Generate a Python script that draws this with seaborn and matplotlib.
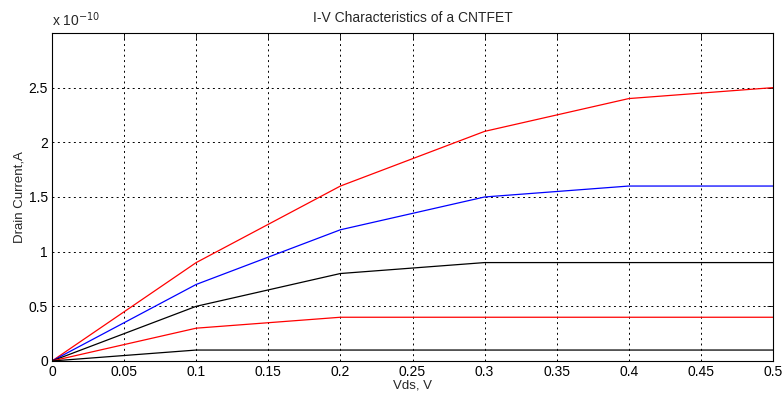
import pandas as pd
import matplotlib
matplotlib.use('Agg')
import matplotlib.pyplot as plt
import seaborn as sns
from matplotlib.ticker import FuncFormatter, FixedLocator

sns.set_style('white')
plt.rcParams['font.family'] = ['Liberation Sans', 'DejaVu Sans']

# Vds points (V) and drain current curves (in units of 1e-10 A)
vds = [0, 0.1, 0.2, 0.3, 0.4, 0.5]
id_1 = [0, 0.9, 1.6, 2.1, 2.4, 2.5]
id_2 = [0, 0.7, 1.2, 1.5, 1.6, 1.6]
id_3 = [0, 0.5, 0.8, 0.9, 0.9, 0.9]
id_4 = [0, 0.3, 0.4, 0.4, 0.4, 0.4]
id_5 = [0, 0.1, 0.1, 0.1, 0.1, 0.1]
scale = 1e-10

curves = {'c1': id_1, 'c2': id_2, 'c3': id_3, 'c4': id_4, 'c5': id_5}
colors = ['#ff0000', '#0000ff', '#000000', '#ff0000', '#000000']

rows = []
for name, vals in curves.items():
    for v, i in zip(vds, vals):
        rows.append({'Vds': v, 'Id': i * scale, 'curve': name})
df = pd.DataFrame(rows)

fig = plt.figure(figsize=(7.82, 4.01), dpi=100)
ax = fig.add_axes([0.0665, 0.0998, 0.922, 0.818])

sns.lineplot(data=df, x='Vds', y='Id', hue='curve', palette=colors,
             legend=False, linewidth=0.9, ax=ax)

ax.set_xlim(0, 0.5)
ax.set_ylim(0, 3e-10)
ax.xaxis.set_major_locator(FixedLocator([0, 0.05, 0.1, 0.15, 0.2, 0.25, 0.3, 0.35, 0.4, 0.45, 0.5]))
ax.yaxis.set_major_locator(FixedLocator([0, 0.5e-10, 1e-10, 1.5e-10, 2e-10, 2.5e-10]))
ax.xaxis.set_major_formatter(FuncFormatter(lambda v, p: f'{v:g}'))
ax.yaxis.set_major_formatter(FuncFormatter(lambda v, p: f'{v / scale:g}'))

ax.grid(True, color='black', linestyle=(0, (2, 3.5)), linewidth=0.7)
ax.tick_params(direction='in', top=True, right=True, length=4, labelsize=10,
               colors='black', width=0.6, pad=3)
for s in ax.spines.values():
    s.set_color('black')
    s.set_linewidth(0.8)

ax.set_title('I-V Characteristics of a CNTFET', fontsize=10, pad=8)
ax.set_xlabel('Vds, V', fontsize=9.5, labelpad=0.5)
ax.set_ylabel('Drain Current,A', fontsize=9.5, labelpad=2)
ax.text(0.0, 1.012, r'x 10$^{-10}$', transform=ax.transAxes, fontsize=10,
        ha='left', va='bottom')

fig.savefig('out.png', dpi=100)
